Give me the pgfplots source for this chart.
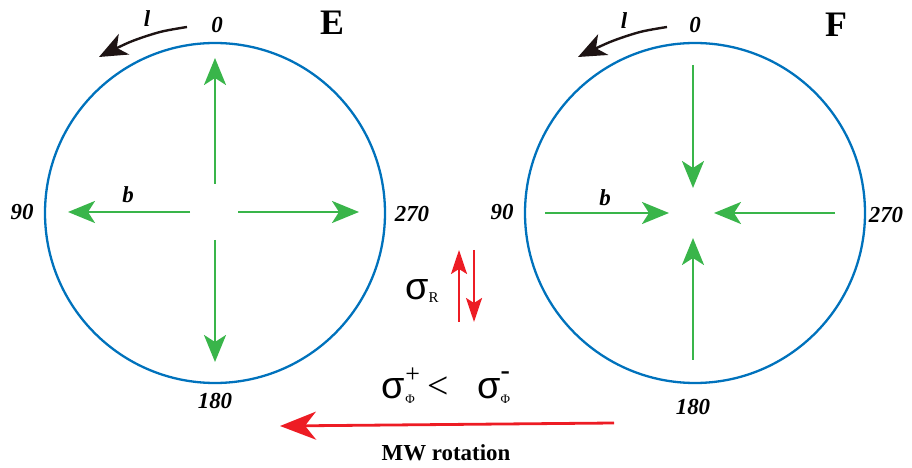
\documentclass[border=0pt]{standalone}
\usepackage{pgfplots}
\pgfplotsset{compat=1.18}
\usepackage{fontspec}
\setmainfont{Liberation Serif}
\newfontfamily\greekfont{Liberation Sans}
\usetikzlibrary{arrows.meta}

\definecolor{ringblue}{RGB}{0,114,188}
\definecolor{fieldgreen}{RGB}{57,181,74}
\definecolor{stressred}{RGB}{237,28,36}
\definecolor{dirblack}{RGB}{30,20,20}

\newcommand{\lab}[1]{{\fontsize{23}{26}\selectfont\bfseries\itshape #1}}
\newcommand{\sig}{{\greekfont σ}}

\begin{document}
\begin{tikzpicture}
\begin{axis}[
  scale only axis, width=912bp, height=468bp,
  xmin=0, xmax=912, ymin=0, ymax=468,
  hide axis, clip=false,
  greenarr/.style={fieldgreen, line width=2.8bp, -{Stealth[length=27bp,width=22bp,inset=7bp]}},
  redarr/.style={stressred, line width=2.4bp, -{Stealth[length=24bp,width=16bp,inset=5bp]}},
  lonarr/.style={dirblack, line width=2.4bp, smooth, -{Stealth[length=28bp,width=23bp,inset=8bp]}},
]
\path (axis cs:0,0) rectangle (axis cs:912,468);

% sky circles
\draw[ringblue, line width=2.3bp] (axis cs:215,255) circle [radius=170];
\draw[ringblue, line width=2.3bp] (axis cs:695,255) circle [radius=170];

% panel E: outward flow
\addplot[greenarr] coordinates {(215,284) (215,410)};
\addplot[greenarr] coordinates {(215,228) (215,106)};
\addplot[greenarr] coordinates {(190,256) (68,256)};
\addplot[greenarr] coordinates {(238,256) (359,256)};

% panel F: inward flow
\addplot[greenarr] coordinates {(693,403) (693,280)};
\addplot[greenarr] coordinates {(693,108) (693,230)};
\addplot[greenarr] coordinates {(545,255) (669,255)};
\addplot[greenarr] coordinates {(835,255) (714,255)};

% direction of increasing longitude
\addplot[lonarr] coordinates {(187,441) (160,436) (130,426) (99,411)};
\addplot[lonarr] coordinates {(667,441) (640,436) (610,426) (578,411)};

% radial stress arrows
\addplot[redarr] coordinates {(459,146) (459,218)};
\addplot[redarr] coordinates {(474,218) (474,146)};

% rotation arrow
\addplot[stressred, line width=2.8bp, -{Stealth[length=36bp,width=28bp,inset=11bp]}]
  coordinates {(614,45) (280,42)};

% labels
\node at (axis cs:217,443) {\lab{0}};
\node at (axis cs:695,443) {\lab{0}};
\node at (axis cs:22,256) {\lab{90}};
\node at (axis cs:502,256) {\lab{90}};
\node at (axis cs:412,254) {\lab{270}};
\node at (axis cs:886,253) {\lab{270}};
\node at (axis cs:215,67) {\lab{180}};
\node at (axis cs:693,61) {\lab{180}};
\node at (axis cs:128,273) {\lab{b}};
\node at (axis cs:605,270) {\lab{b}};
\node at (axis cs:147,449) {\lab{l}};
\node at (axis cs:624,447) {\lab{l}};
\node at (axis cs:332,445) {\fontsize{36}{40}\selectfont\bfseries E};
\node at (axis cs:836,443) {\fontsize{36}{40}\selectfont\bfseries F};

\node at (axis cs:422,177) {\fontsize{38}{40}\selectfont\sig\raisebox{-0.1em}{\fontsize{15}{16}\selectfont R}};

\node at (axis cs:446,82) {\fontsize{38}{40}\selectfont
  \sig\rlap{\raisebox{0.4em}{\fontsize{26}{26}\selectfont +}}\raisebox{-0.15em}{\fontsize{13}{14}\selectfont Φ}\,\,<\,\,\,
  \sig\rlap{\raisebox{0.5em}{\fontsize{28}{28}\selectfont\bfseries -}}\raisebox{-0.15em}{\fontsize{13}{14}\selectfont Φ}};

\node at (axis cs:446,15) {\fontsize{23}{25}\selectfont\bfseries MW rotation};
\end{axis}
\end{tikzpicture}
\end{document}
